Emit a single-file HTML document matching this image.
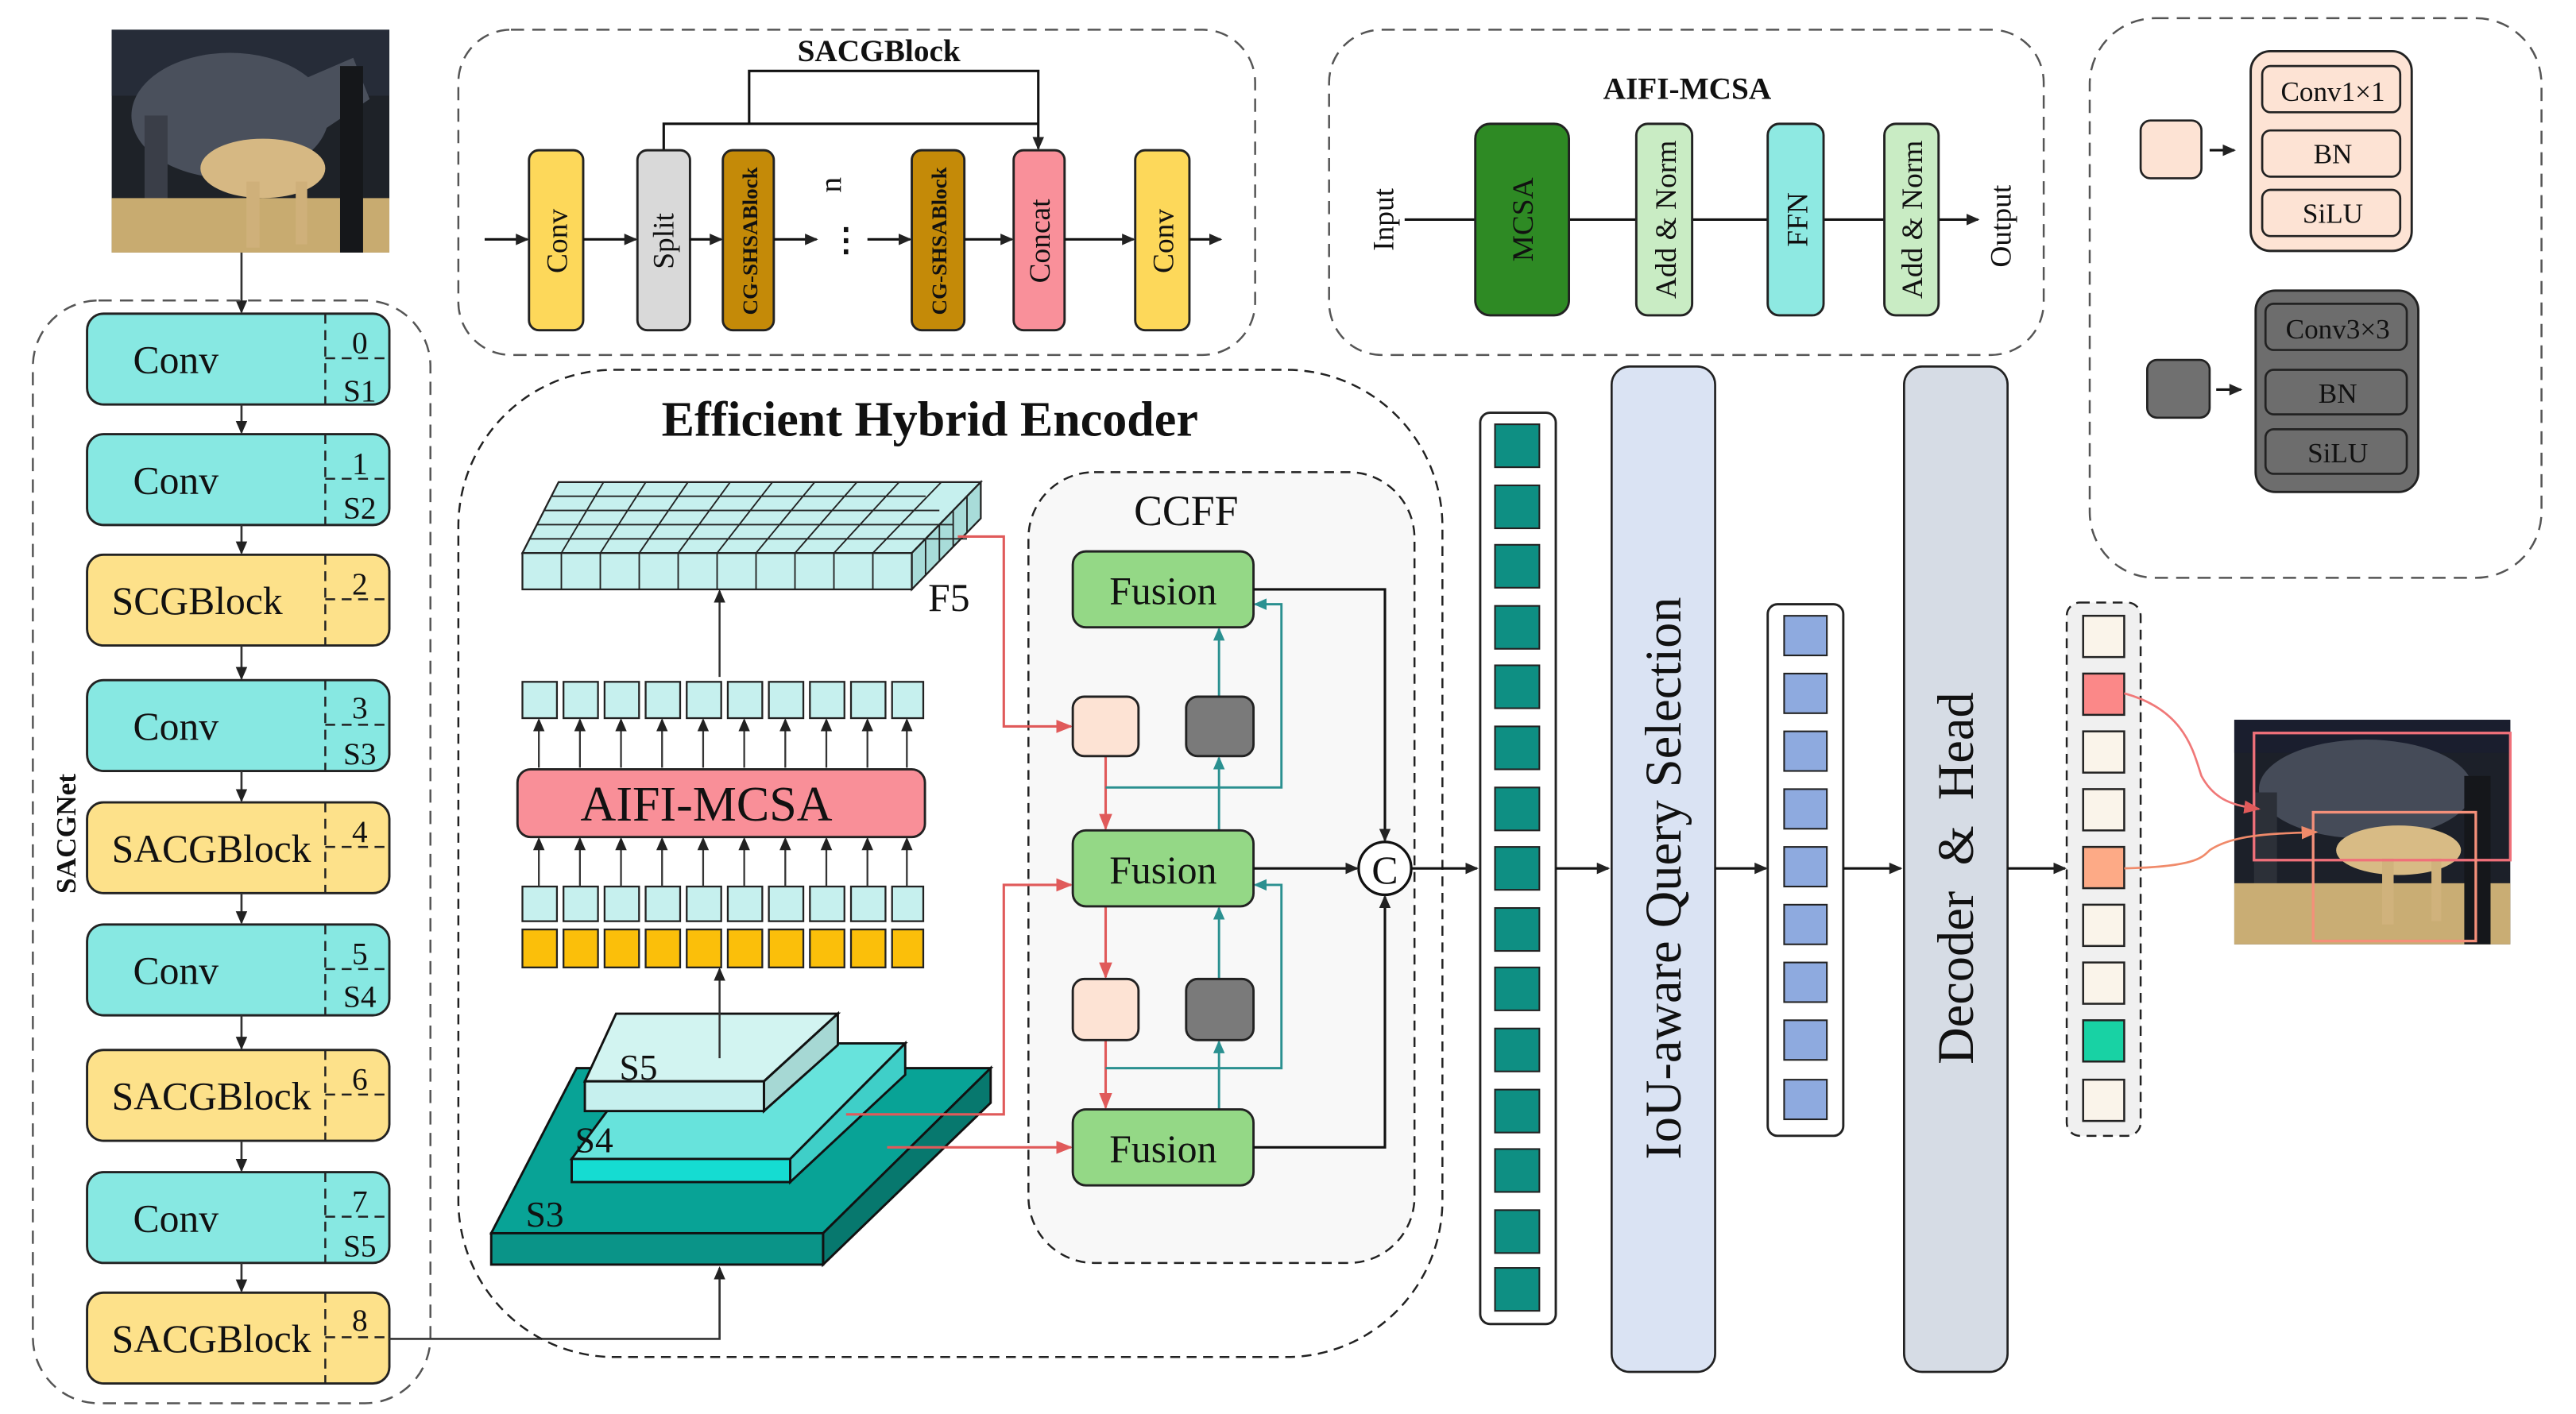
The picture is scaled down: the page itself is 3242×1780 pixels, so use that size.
<!DOCTYPE html>
<html><head><meta charset="utf-8"><style>
html,body{margin:0;padding:0;background:#fff;}
svg{display:block;}
text{font-family:"Liberation Serif","DejaVu Serif",serif;fill:#111;}
</style></head><body>
<svg width="3242" height="1780" viewBox="0 0 1568 856.5" preserveAspectRatio="none" xmlns="http://www.w3.org/2000/svg">
<defs>
<marker id="a" markerWidth="8" markerHeight="8" refX="7" refY="4" orient="auto" markerUnits="userSpaceOnUse"><path d="M0,0.5 L8,4 L0,7.5 z" fill="#222"/></marker>
<marker id="ar" markerWidth="10" markerHeight="10" refX="9" refY="5" orient="auto" markerUnits="userSpaceOnUse"><path d="M0,1 L10,5 L0,9 z" fill="#e05a5a"/></marker>
<marker id="at" markerWidth="8" markerHeight="8" refX="7" refY="4" orient="auto" markerUnits="userSpaceOnUse"><path d="M0,0.5 L8,4 L0,7.5 z" fill="#2a9090"/></marker>
<marker id="ao" markerWidth="10" markerHeight="10" refX="9" refY="5" orient="auto" markerUnits="userSpaceOnUse"><path d="M0,1 L10,5 L0,9 z" fill="#f08a6a"/></marker>
</defs>
<rect width="1568" height="857" fill="#fff"/>

<!-- top-left horse image -->
<g>
<rect x="68" y="18" width="169" height="135" fill="#1e2228"/>
<rect x="68" y="18" width="169" height="40" fill="#262c38"/>
<ellipse cx="140" cy="70" rx="60" ry="38" fill="#4a505c"/>
<rect x="88" y="70" width="14" height="60" fill="#3a3e48"/>
<path d="M180,50 L215,35 L225,60 L195,80 z" fill="#4a505c"/>
<rect x="68" y="120" width="169" height="33" fill="#c8ab70"/>
<ellipse cx="160" cy="102" rx="38" ry="18" fill="#d6b883"/>
<rect x="150" y="110" width="8" height="40" fill="#cfb07a"/>
<rect x="180" y="110" width="7" height="38" fill="#cfb07a"/>
<rect x="207" y="40" width="14" height="113" fill="#15171a"/>
</g>
<line x1="147" y1="153" x2="147" y2="189" stroke="#333" stroke-width="1.3" marker-end="url(#a)"/>

<!-- SACGNet panel -->
<rect x="20" y="182" width="242" height="668" rx="40" fill="none" stroke="#555" stroke-width="1.2" stroke-dasharray="8,5"/>
<text x="46" y="505" font-size="17" font-weight="bold" transform="rotate(-90 46 505)" text-anchor="middle">SACGNet</text>

<g stroke="#222" stroke-width="1.4">
<rect x="53" y="190" width="184" height="55" rx="10" fill="#87e8e2"/>
<rect x="53" y="263" width="184" height="55" rx="10" fill="#87e8e2"/>
<rect x="53" y="336" width="184" height="55" rx="10" fill="#fde18a"/>
<rect x="53" y="412" width="184" height="55" rx="10" fill="#87e8e2"/>
<rect x="53" y="486" width="184" height="55" rx="10" fill="#fde18a"/>
<rect x="53" y="560" width="184" height="55" rx="10" fill="#87e8e2"/>
<rect x="53" y="636" width="184" height="55" rx="10" fill="#fde18a"/>
<rect x="53" y="710" width="184" height="55" rx="10" fill="#87e8e2"/>
<rect x="53" y="783" width="184" height="55" rx="10" fill="#fde18a"/>
</g>
<g stroke="#222" stroke-width="1.2" stroke-dasharray="6,4">
<line x1="198" y1="190" x2="198" y2="245"/><line x1="198" y1="217" x2="237" y2="217"/>
<line x1="198" y1="263" x2="198" y2="318"/><line x1="198" y1="290" x2="237" y2="290"/>
<line x1="198" y1="336" x2="198" y2="391"/><line x1="198" y1="363" x2="237" y2="363"/>
<line x1="198" y1="412" x2="198" y2="467"/><line x1="198" y1="439" x2="237" y2="439"/>
<line x1="198" y1="486" x2="198" y2="541"/><line x1="198" y1="513" x2="237" y2="513"/>
<line x1="198" y1="560" x2="198" y2="615"/><line x1="198" y1="587" x2="237" y2="587"/>
<line x1="198" y1="636" x2="198" y2="691"/><line x1="198" y1="663" x2="237" y2="663"/>
<line x1="198" y1="710" x2="198" y2="765"/><line x1="198" y1="737" x2="237" y2="737"/>
<line x1="198" y1="783" x2="198" y2="838"/><line x1="198" y1="810" x2="237" y2="810"/>
</g>
<g font-size="24">
<text x="81" y="226">Conv</text><text x="81" y="299">Conv</text>
<text x="68" y="372">SCGBlock</text><text x="81" y="448">Conv</text>
<text x="68" y="522">SACGBlock</text><text x="81" y="596">Conv</text>
<text x="68" y="672">SACGBlock</text><text x="81" y="746">Conv</text>
<text x="68" y="819">SACGBlock</text>
</g>
<g font-size="19" text-anchor="middle">
<text x="219" y="214">0</text><text x="219" y="243">S1</text>
<text x="219" y="287">1</text><text x="219" y="314">S2</text>
<text x="219" y="360">2</text>
<text x="219" y="435">3</text><text x="219" y="463">S3</text>
<text x="219" y="510">4</text>
<text x="219" y="584">5</text><text x="219" y="610">S4</text>
<text x="219" y="660">6</text>
<text x="219" y="734">7</text><text x="219" y="761">S5</text>
<text x="219" y="806">8</text>
</g>
<g stroke="#333" stroke-width="1.3" marker-end="url(#a)">
<line x1="147" y1="245" x2="147" y2="262"/><line x1="147" y1="318" x2="147" y2="335"/>
<line x1="147" y1="391" x2="147" y2="411"/><line x1="147" y1="467" x2="147" y2="485"/>
<line x1="147" y1="541" x2="147" y2="559"/><line x1="147" y1="615" x2="147" y2="635"/>
<line x1="147" y1="691" x2="147" y2="709"/><line x1="147" y1="765" x2="147" y2="782"/>
</g>
<polyline points="237,811 438,811 438,768" fill="none" stroke="#333" stroke-width="1.3" marker-end="url(#a)"/>

<!-- SACGBlock panel -->
<rect x="279" y="18" width="485" height="197" rx="32" fill="none" stroke="#555" stroke-width="1.2" stroke-dasharray="8,5"/>
<text x="535" y="37" font-size="19" font-weight="bold" text-anchor="middle">SACGBlock</text>
<polyline points="404,91 404,75 632,75" fill="none" stroke="#111" stroke-width="1.5"/>
<polyline points="456,75 456,43 632,43 632,90" fill="none" stroke="#111" stroke-width="1.5" marker-end="url(#a)"/>
<g stroke="#222" stroke-width="1.4">
<rect x="322" y="91" width="33" height="109" rx="6" fill="#fdd85a"/>
<rect x="388" y="91" width="32" height="109" rx="6" fill="#d9d9d9"/>
<rect x="440" y="91" width="31" height="109" rx="6" fill="#c48a08"/>
<rect x="555" y="91" width="32" height="109" rx="6" fill="#c48a08"/>
<rect x="617" y="91" width="31" height="109" rx="6" fill="#f9909a"/>
<rect x="691" y="91" width="33" height="109" rx="6" fill="#fdd85a"/>
</g>
<g stroke="#111" stroke-width="1.5" marker-end="url(#a)">
<line x1="295" y1="145" x2="321" y2="145"/><line x1="355" y1="145" x2="387" y2="145"/>
<line x1="420" y1="145" x2="439" y2="145"/><line x1="471" y1="145" x2="497" y2="145"/>
<line x1="528" y1="145" x2="554" y2="145"/><line x1="587" y1="145" x2="616" y2="145"/>
<line x1="648" y1="145" x2="690" y2="145"/><line x1="724" y1="145" x2="743" y2="145"/>
</g>
<text x="515" y="152" font-size="20" font-weight="bold" text-anchor="middle">⋮</text>
<text x="512" y="112" font-size="19" transform="rotate(-90 512 112)" text-anchor="middle">n</text>
<g font-size="18" text-anchor="middle">
<text x="345" y="146" transform="rotate(-90 345 146)">Conv</text>
<text x="410" y="146" transform="rotate(-90 410 146)">Split</text>
<text x="639" y="146" transform="rotate(-90 639 146)">Concat</text>
<text x="714" y="146" transform="rotate(-90 714 146)">Conv</text>
<text x="461" y="146" font-size="13" font-weight="bold" transform="rotate(-90 461 146)">CG-SHSABlock</text>
<text x="576" y="146" font-size="13" font-weight="bold" transform="rotate(-90 576 146)">CG-SHSABlock</text>
</g>

<!-- AIFI-MCSA panel -->
<rect x="809" y="18" width="435" height="197" rx="32" fill="none" stroke="#555" stroke-width="1.2" stroke-dasharray="8,5"/>
<text x="1027" y="60" font-size="19" font-weight="bold" text-anchor="middle">AIFI-MCSA</text>
<line x1="855" y1="133" x2="1204" y2="133" stroke="#111" stroke-width="1.5" marker-end="url(#a)"/>
<g stroke="#222" stroke-width="1.4">
<rect x="898" y="75" width="57" height="116" rx="9" fill="#2e8a24"/>
<rect x="996" y="75" width="34" height="116" rx="7" fill="#c9ecc4"/>
<rect x="1076" y="75" width="34" height="116" rx="7" fill="#8ee9e2"/>
<rect x="1147" y="75" width="33" height="116" rx="7" fill="#c9ecc4"/>
</g>
<g font-size="18" text-anchor="middle">
<text x="848" y="133" transform="rotate(-90 848 133)">Input</text>
<text x="933" y="133" transform="rotate(-90 933 133)">MCSA</text>
<text x="1020" y="133" transform="rotate(-90 1020 133)">Add &amp; Norm</text>
<text x="1100" y="133" transform="rotate(-90 1100 133)">FFN</text>
<text x="1170" y="133" transform="rotate(-90 1170 133)">Add &amp; Norm</text>
<text x="1224" y="137" transform="rotate(-90 1224 137)">Output</text>
</g>

<!-- legend panel -->
<rect x="1272" y="11" width="275" height="339" rx="40" fill="none" stroke="#555" stroke-width="1.2" stroke-dasharray="8,5"/>
<rect x="1303" y="73" width="37" height="35" rx="6" fill="#fde3d4" stroke="#222" stroke-width="1.3"/>
<line x1="1345" y1="91" x2="1360" y2="91" stroke="#111" stroke-width="1.5" marker-end="url(#a)"/>
<rect x="1370" y="31" width="98" height="121" rx="12" fill="#fde3d4" stroke="#222" stroke-width="1.4"/>
<g fill="none" stroke="#222" stroke-width="1.3">
<rect x="1377" y="40" width="84" height="28" rx="5"/><rect x="1377" y="79" width="84" height="28" rx="5"/><rect x="1377" y="115" width="84" height="28" rx="5"/>
</g>
<g font-size="17" text-anchor="middle">
<text x="1420" y="61">Conv1×1</text><text x="1420" y="99">BN</text><text x="1420" y="135">SiLU</text>
</g>
<rect x="1307" y="218" width="38" height="35" rx="6" fill="#707070" stroke="#222" stroke-width="1.3"/>
<line x1="1349" y1="236" x2="1364" y2="236" stroke="#111" stroke-width="1.5" marker-end="url(#a)"/>
<rect x="1373" y="176" width="99" height="122" rx="12" fill="#6d6d6d" stroke="#222" stroke-width="1.4"/>
<g fill="none" stroke="#222" stroke-width="1.3">
<rect x="1379" y="184" width="86" height="28" rx="5"/><rect x="1379" y="224" width="86" height="27" rx="5"/><rect x="1379" y="260" width="86" height="27" rx="5"/>
</g>
<g font-size="17" text-anchor="middle">
<text x="1423" y="205">Conv3×3</text><text x="1423" y="244">BN</text><text x="1423" y="280">SiLU</text>
</g>

<!-- Encoder panel -->
<rect x="279" y="224" width="599" height="598" rx="95" fill="none" stroke="#222" stroke-width="1.2" stroke-dasharray="6,4"/>
<text x="566" y="264" font-size="30" font-weight="bold" text-anchor="middle">Efficient Hybrid Encoder</text>

<!-- F5 grid -->
<g stroke="#222" stroke-width="1.1">
<polygon points="318,335 340,292 597,292 555,335" fill="#c6f0ee"/>
<polygon points="555,335 597,292 597,314 555,357" fill="#a8dcd9"/>
<rect x="318" y="335" width="237" height="22" fill="#c6f0ee"/>
</g>
<g stroke="#222" stroke-width="0.9">
<line x1="341.7" y1="335" x2="341.7" y2="357"/><line x1="365.4" y1="335" x2="365.4" y2="357"/><line x1="389.1" y1="335" x2="389.1" y2="357"/><line x1="412.8" y1="335" x2="412.8" y2="357"/><line x1="436.5" y1="335" x2="436.5" y2="357"/><line x1="460.2" y1="335" x2="460.2" y2="357"/><line x1="483.9" y1="335" x2="483.9" y2="357"/><line x1="507.6" y1="335" x2="507.6" y2="357"/><line x1="531.3" y1="335" x2="531.3" y2="357"/>
<line x1="341.7" y1="335" x2="367.4" y2="292"/><line x1="365.4" y1="335" x2="393.1" y2="292"/><line x1="389.1" y1="335" x2="418.8" y2="292"/><line x1="412.8" y1="335" x2="444.5" y2="292"/><line x1="436.5" y1="335" x2="470.2" y2="292"/><line x1="460.2" y1="335" x2="495.9" y2="292"/><line x1="483.9" y1="335" x2="521.6" y2="292"/><line x1="507.6" y1="335" x2="547.3" y2="292"/><line x1="531.3" y1="335" x2="573" y2="292"/>
<line x1="322.4" y1="326.4" x2="588.6" y2="326.4"/><line x1="326.8" y1="317.8" x2="580.2" y2="317.8"/><line x1="331.2" y1="309.2" x2="571.8" y2="309.2"/><line x1="335.6" y1="300.6" x2="563.4" y2="300.6"/>
<line x1="563.4" y1="326.4" x2="563.4" y2="348.4"/><line x1="571.8" y1="317.8" x2="571.8" y2="339.8"/><line x1="580.2" y1="309.2" x2="580.2" y2="331.2"/><line x1="588.6" y1="300.6" x2="588.6" y2="322.6"/>
</g>
<text x="565" y="370" font-size="24">F5</text>
<line x1="438" y1="410" x2="438" y2="358" stroke="#333" stroke-width="1.2" marker-end="url(#a)"/>

<!-- token rows -->
<g stroke="#222" stroke-width="1.1" fill="#c6f0ee">
<rect x="318" y="413" width="21" height="22"/><rect x="343" y="413" width="21" height="22"/><rect x="368" y="413" width="21" height="22"/><rect x="393" y="413" width="21" height="22"/><rect x="418" y="413" width="21" height="22"/><rect x="443" y="413" width="21" height="22"/><rect x="468" y="413" width="21" height="22"/><rect x="493" y="413" width="21" height="22"/><rect x="518" y="413" width="21" height="22"/><rect x="543" y="413" width="19" height="22"/>
<rect x="318" y="537" width="21" height="21"/><rect x="343" y="537" width="21" height="21"/><rect x="368" y="537" width="21" height="21"/><rect x="393" y="537" width="21" height="21"/><rect x="418" y="537" width="21" height="21"/><rect x="443" y="537" width="21" height="21"/><rect x="468" y="537" width="21" height="21"/><rect x="493" y="537" width="21" height="21"/><rect x="518" y="537" width="21" height="21"/><rect x="543" y="537" width="19" height="21"/>
</g>
<g stroke="#222" stroke-width="1.1" fill="#fbbf0a">
<rect x="318" y="563" width="21" height="23"/><rect x="343" y="563" width="21" height="23"/><rect x="368" y="563" width="21" height="23"/><rect x="393" y="563" width="21" height="23"/><rect x="418" y="563" width="21" height="23"/><rect x="443" y="563" width="21" height="23"/><rect x="468" y="563" width="21" height="23"/><rect x="493" y="563" width="21" height="23"/><rect x="518" y="563" width="21" height="23"/><rect x="543" y="563" width="19" height="23"/>
</g>
<rect x="315" y="466" width="248" height="41" rx="8" fill="#f98f98" stroke="#222" stroke-width="1.4"/>
<text x="430" y="497" font-size="30" text-anchor="middle">AIFI-MCSA</text>
<g stroke="#333" stroke-width="1.1" marker-end="url(#a)">
<line x1="328" y1="465" x2="328" y2="436"/><line x1="353" y1="465" x2="353" y2="436"/><line x1="378" y1="465" x2="378" y2="436"/><line x1="403" y1="465" x2="403" y2="436"/><line x1="428" y1="465" x2="428" y2="436"/><line x1="453" y1="465" x2="453" y2="436"/><line x1="478" y1="465" x2="478" y2="436"/><line x1="503" y1="465" x2="503" y2="436"/><line x1="528" y1="465" x2="528" y2="436"/><line x1="552" y1="465" x2="552" y2="436"/>
<line x1="328" y1="537" x2="328" y2="508"/><line x1="353" y1="537" x2="353" y2="508"/><line x1="378" y1="537" x2="378" y2="508"/><line x1="403" y1="537" x2="403" y2="508"/><line x1="428" y1="537" x2="428" y2="508"/><line x1="453" y1="537" x2="453" y2="508"/><line x1="478" y1="537" x2="478" y2="508"/><line x1="503" y1="537" x2="503" y2="508"/><line x1="528" y1="537" x2="528" y2="508"/><line x1="552" y1="537" x2="552" y2="508"/>
</g>

<!-- pyramid -->
<g stroke="#111" stroke-width="1.4">
<polygon points="299,747 351,647 603,647 501,747" fill="#08a396"/>
<polygon points="501,747 603,647 603,668 501,766" fill="#07786e"/>
<rect x="299" y="747" width="202" height="19" fill="#0a9488"/>
<polygon points="348,702 400,632 551,632 481,702" fill="#67e3dc"/>
<polygon points="481,702 551,632 551,651 481,716" fill="#3fcfc8"/>
<rect x="348" y="702" width="133" height="14" fill="#15dcd2"/>
<polygon points="356,655 375,614 510,614 465,655" fill="#d2f4f1"/>
<polygon points="465,655 510,614 510,633 465,673" fill="#a6d8d4"/>
<rect x="356" y="655" width="109" height="18" fill="#c6f0ee"/>
</g>
<text x="377" y="654" font-size="22">S5</text>
<text x="350" y="698" font-size="22">S4</text>
<text x="320" y="743" font-size="22">S3</text>
<line x1="438" y1="641" x2="438" y2="587" stroke="#333" stroke-width="1.2" marker-end="url(#a)"/>

<!-- CCFF -->
<rect x="626" y="286" width="235" height="479" rx="40" fill="#f8f8f8" stroke="#222" stroke-width="1.2" stroke-dasharray="6,4"/>
<text x="722" y="318" font-size="26" text-anchor="middle">CCFF</text>

<g fill="none" stroke="#e05a5a" stroke-width="1.5">
<polyline points="583,325 611,325 611,440 652,440" marker-end="url(#ar)"/>
<line x1="673" y1="458" x2="673" y2="502" marker-end="url(#ar)"/>
<line x1="673" y1="549" x2="673" y2="592" marker-end="url(#ar)"/>
<polyline points="515,675 611,675 611,536 652,536" marker-end="url(#ar)"/>
<line x1="540" y1="695" x2="652" y2="695" marker-end="url(#ar)"/>
<line x1="673" y1="630" x2="673" y2="671" marker-end="url(#ar)"/>
</g>
<g fill="none" stroke="#2a9090" stroke-width="1.4">
<line x1="742" y1="422" x2="742" y2="381" marker-end="url(#at)"/>
<line x1="742" y1="503" x2="742" y2="459" marker-end="url(#at)"/>
<polyline points="673,477 780,477 780,366 764,366" marker-end="url(#at)"/>
<line x1="742" y1="593" x2="742" y2="550" marker-end="url(#at)"/>
<line x1="742" y1="672" x2="742" y2="631" marker-end="url(#at)"/>
<polyline points="673,647 780,647 780,536 764,536" marker-end="url(#at)"/>
</g>
<g stroke="#222" stroke-width="1.4">
<rect x="653" y="334" width="110" height="46" rx="8" fill="#94d886"/>
<rect x="653" y="503" width="110" height="46" rx="8" fill="#94d886"/>
<rect x="653" y="672" width="110" height="46" rx="8" fill="#94d886"/>
<rect x="653" y="422" width="40" height="36" rx="7" fill="#fde3d4"/>
<rect x="722" y="422" width="41" height="36" rx="7" fill="#7a7a7a"/>
<rect x="653" y="593" width="40" height="37" rx="7" fill="#fde3d4"/>
<rect x="722" y="593" width="41" height="37" rx="7" fill="#7a7a7a"/>
</g>
<g font-size="24" text-anchor="middle">
<text x="708" y="366">Fusion</text><text x="708" y="535">Fusion</text><text x="708" y="704">Fusion</text>
</g>
<g fill="none" stroke="#111" stroke-width="1.5">
<polyline points="763,357 843,357 843,509" marker-end="url(#a)"/>
<line x1="763" y1="526" x2="826" y2="526" marker-end="url(#a)"/>
<polyline points="763,695 843,695 843,543" marker-end="url(#a)"/>
<line x1="859" y1="526" x2="899" y2="526" marker-end="url(#a)"/>
</g>
<circle cx="843" cy="526" r="16" fill="#fff" stroke="#111" stroke-width="1.6"/>
<text x="843" y="535" font-size="24" text-anchor="middle">C</text>

<!-- teal column -->
<rect x="901" y="250" width="46" height="552" rx="6" fill="#fff" stroke="#222" stroke-width="1.4"/>
<g fill="#0e8f83" stroke="#222" stroke-width="1">
<rect x="910" y="257" width="27" height="26"/><rect x="910" y="294" width="27" height="26"/><rect x="910" y="330" width="27" height="26"/><rect x="910" y="367" width="27" height="26"/><rect x="910" y="403" width="27" height="26"/><rect x="910" y="440" width="27" height="26"/><rect x="910" y="477" width="27" height="26"/><rect x="910" y="513" width="27" height="26"/><rect x="910" y="550" width="27" height="26"/><rect x="910" y="586" width="27" height="26"/><rect x="910" y="623" width="27" height="26"/><rect x="910" y="660" width="27" height="26"/><rect x="910" y="696" width="27" height="26"/><rect x="910" y="733" width="27" height="26"/><rect x="910" y="768" width="27" height="26"/>
</g>
<line x1="947" y1="526" x2="979" y2="526" stroke="#111" stroke-width="1.5" marker-end="url(#a)"/>

<rect x="981" y="222" width="63" height="609" rx="11" fill="#dae3f3" stroke="#222" stroke-width="1.3"/>
<text x="1023" y="532" font-size="31" text-anchor="middle" transform="rotate(-90 1023 532)">IoU-aware Query Selection</text>
<line x1="1044" y1="526" x2="1075" y2="526" stroke="#111" stroke-width="1.5" marker-end="url(#a)"/>

<rect x="1076" y="366" width="46" height="322" rx="6" fill="#fff" stroke="#222" stroke-width="1.4"/>
<g fill="#8eaadf" stroke="#222" stroke-width="1">
<rect x="1086" y="373" width="26" height="24"/><rect x="1086" y="408" width="26" height="24"/><rect x="1086" y="443" width="26" height="24"/><rect x="1086" y="478" width="26" height="24"/><rect x="1086" y="513" width="26" height="24"/><rect x="1086" y="548" width="26" height="24"/><rect x="1086" y="583" width="26" height="24"/><rect x="1086" y="618" width="26" height="24"/><rect x="1086" y="654" width="26" height="24"/>
</g>
<line x1="1122" y1="526" x2="1157" y2="526" stroke="#111" stroke-width="1.5" marker-end="url(#a)"/>

<rect x="1159" y="222" width="63" height="609" rx="11" fill="#d6dce5" stroke="#222" stroke-width="1.3"/>
<text x="1201" y="532" font-size="31" text-anchor="middle" transform="rotate(-90 1201 532)" xml:space="preserve">Decoder  &amp;  Head</text>
<line x1="1222" y1="526" x2="1257" y2="526" stroke="#111" stroke-width="1.5" marker-end="url(#a)"/>

<!-- output column -->
<rect x="1258" y="365" width="45" height="323" rx="8" fill="#f0f0f0" stroke="#222" stroke-width="1.2" stroke-dasharray="6,4"/>
<g stroke="#222" stroke-width="1.2">
<rect x="1268" y="373" width="25" height="25" fill="#faf4ea"/>
<rect x="1268" y="408" width="25" height="25" fill="#fb8888"/>
<rect x="1268" y="443" width="25" height="25" fill="#faf4ea"/>
<rect x="1268" y="478" width="25" height="25" fill="#faf4ea"/>
<rect x="1268" y="513" width="25" height="25" fill="#fdaa86"/>
<rect x="1268" y="548" width="25" height="25" fill="#faf4ea"/>
<rect x="1268" y="583" width="25" height="25" fill="#faf4ea"/>
<rect x="1268" y="618" width="25" height="25" fill="#18d2a4"/>
<rect x="1268" y="654" width="25" height="25" fill="#faf4ea"/>
</g>

<!-- output image -->
<g>
<rect x="1360" y="436" width="168" height="136" fill="#1c2029"/>
<rect x="1360" y="436" width="168" height="20" fill="#1a1e2e"/>
<ellipse cx="1440" cy="478" rx="65" ry="30" fill="#454b58"/>
<rect x="1372" y="480" width="14" height="70" fill="#2c3038"/>
<rect x="1360" y="535" width="168" height="37" fill="#c9ad74"/>
<ellipse cx="1460" cy="515" rx="38" ry="15" fill="#d8bb85"/>
<rect x="1450" y="520" width="7" height="40" fill="#d0b27c"/>
<rect x="1480" y="520" width="6" height="38" fill="#d0b27c"/>
<rect x="1500" y="470" width="16" height="102" fill="#15171b"/>
<rect x="1372" y="444" width="156" height="77" fill="none" stroke="#f0707a" stroke-width="1.6"/>
<rect x="1408" y="492" width="99" height="78" fill="none" stroke="#f4907a" stroke-width="1.6"/>
</g>
<path d="M1293,420 C1330,430 1335,455 1340,470 C1348,485 1360,488 1375,490" fill="none" stroke="#f07878" stroke-width="1.3" marker-end="url(#ar)"/>
<path d="M1293,526 C1335,525 1340,520 1345,515 C1360,505 1385,505 1410,504" fill="none" stroke="#f08a6a" stroke-width="1.3" marker-end="url(#ao)"/>
</svg>
</body></html>
